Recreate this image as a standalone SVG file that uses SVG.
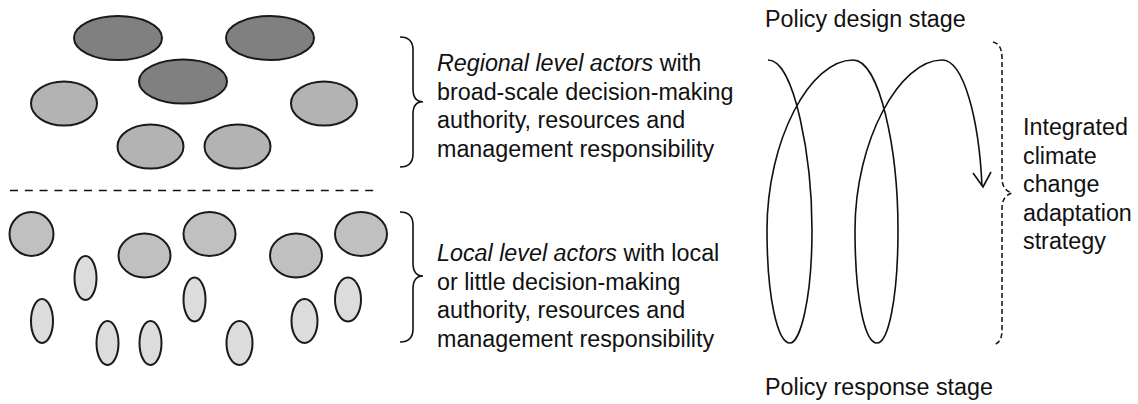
<svg xmlns="http://www.w3.org/2000/svg" width="1138" height="404" viewBox="0 0 1138 404">
<style>
.e{stroke:#1a1a1a;stroke-width:2}
.d{fill:#808080}.l{fill:#b3b3b3}.m{fill:#c0c0c0}.s{fill:#dcdcdc}
.t{font-family:"Liberation Sans",Arial,sans-serif;font-size:23.3px;fill:#111}
.line{fill:none;stroke:#111;stroke-width:1.6}
.dash{fill:none;stroke:#111;stroke-width:1.5;stroke-dasharray:5 3}
</style>
<rect width="1138" height="404" fill="#fff"/>
<g id="regional-actors">
<ellipse class="e d" cx="118" cy="38" rx="44" ry="22"/>
<ellipse class="e d" cx="270" cy="38" rx="44" ry="22"/>
<ellipse class="e d" cx="183" cy="81.5" rx="44" ry="22"/>
<ellipse class="e l" cx="64" cy="103.5" rx="33" ry="22"/>
<ellipse class="e l" cx="324" cy="103.5" rx="33" ry="22"/>
<ellipse class="e l" cx="150.5" cy="146.5" rx="33" ry="22"/>
<ellipse class="e l" cx="237.5" cy="146.5" rx="33" ry="22"/>
</g>
<g id="divider">
<line x1="10" y1="190.5" x2="379" y2="190.5" stroke="#111" stroke-width="1.6" stroke-dasharray="8 6.8"/>
</g>
<g id="local-actors">
<ellipse class="e m" cx="31.5" cy="234" rx="22" ry="22"/>
<ellipse class="e m" cx="144.5" cy="255.5" rx="26" ry="22"/>
<ellipse class="e m" cx="209.5" cy="234" rx="26" ry="22"/>
<ellipse class="e m" cx="296" cy="255.5" rx="26" ry="22"/>
<ellipse class="e m" cx="361" cy="234" rx="26" ry="22"/>
<ellipse class="e s" cx="85.5" cy="278" rx="11" ry="22"/>
<ellipse class="e s" cx="42" cy="321" rx="11" ry="22"/>
<ellipse class="e s" cx="107.5" cy="343" rx="11" ry="22"/>
<ellipse class="e s" cx="150.5" cy="343" rx="11" ry="22"/>
<ellipse class="e s" cx="194.5" cy="299.5" rx="11" ry="22"/>
<ellipse class="e s" cx="239.5" cy="343" rx="13" ry="22"/>
<ellipse class="e s" cx="304.5" cy="321" rx="13" ry="22"/>
<ellipse class="e s" cx="348" cy="299.5" rx="13" ry="22"/>
</g>
<g id="regional-label">
<path class="line" d="M400,37 Q413,37 413,50 L413,89 Q413,101.7 423,101.7 Q413,101.7 413,114 L413,154 Q413,167 400,167"/>
<text class="t" x="437" y="71"><tspan font-style="italic">Regional level actors</tspan> with</text>
<text class="t" x="437" y="99.5">broad-scale decision-making</text>
<text class="t" x="437" y="128">authority, resources and</text>
<text class="t" x="437" y="156.5">management responsibility</text>
</g>
<g id="local-label">
<path class="line" d="M400,212 Q413,212 413,225 L413,263 Q413,276 423,276 Q413,276 413,289 L413,329 Q413,342 400,342"/>
<text class="t" x="437" y="261"><tspan font-style="italic">Local level actors</tspan> with local</text>
<text class="t" x="437" y="289.5">or little decision-making</text>
<text class="t" x="437" y="318">authority, resources and</text>
<text class="t" x="437" y="346.5">management responsibility</text>
</g>
<g id="policy-design">
<text class="t" x="765" y="27">Policy design stage</text>
</g>
<g id="policy-response">
<text class="t" x="765" y="395">Policy response stage</text>
</g>
<g id="connectors">
<path class="line" d="M768,60 C795,60 812,160 812,230 C812,300 800,343 790,343 C778,343 767,300 767,230 C767,140 810,60 853,60 C880,60 898,150 898,230 C898,300 888,343 877,343 C865,343 855,300 855,230 C855,140 900,60 942,60 C964,60 979,120 982,186"/>
<path class="line" d="M973,173 L983,187 L991,172"/>
</g>
<g id="strategy">
<path class="dash" d="M993,42 Q1002,44 1002,58 L1002,178 Q1002,190 1012,193 Q1002,196 1002,208 L1002,330 Q1002,343 993,345"/>
<text class="t" x="1023" y="135">Integrated</text>
<text class="t" x="1023" y="163.5">climate</text>
<text class="t" x="1023" y="192">change</text>
<text class="t" x="1023" y="220.5">adaptation</text>
<text class="t" x="1023" y="249">strategy</text>
</g>
</svg>
